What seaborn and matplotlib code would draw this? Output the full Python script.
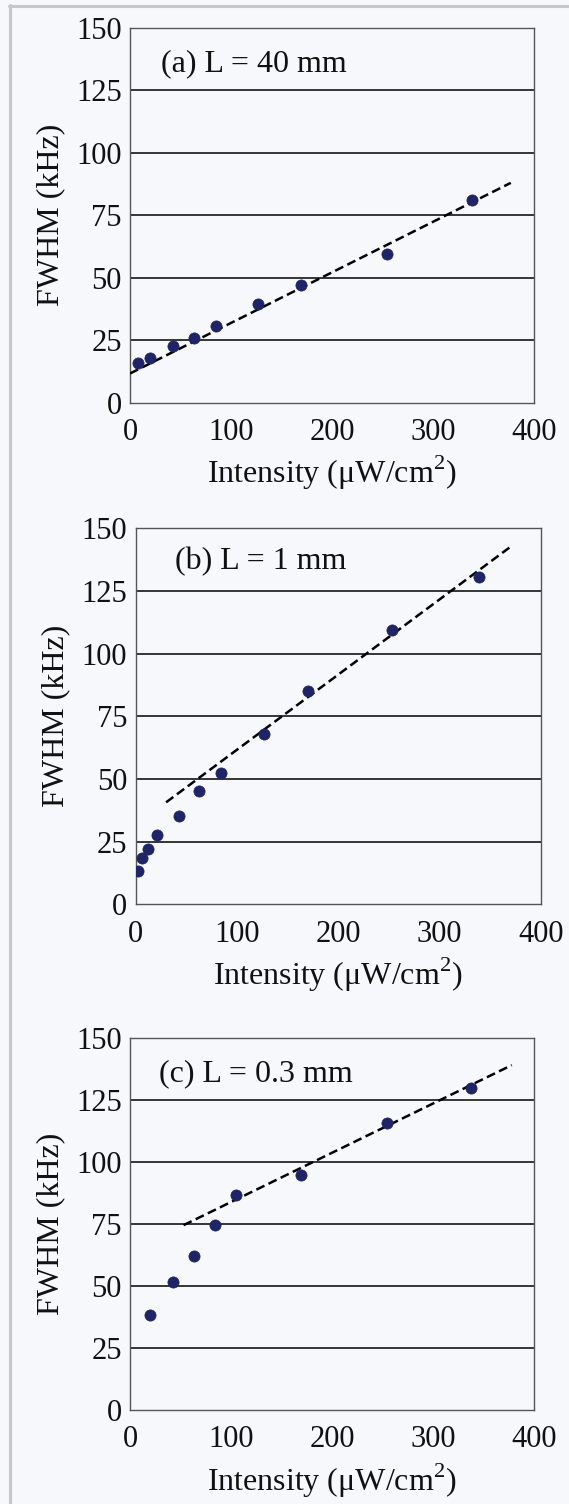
"""
FWHM vs intensity for three cell lengths, stacked vertically.
"""
import matplotlib
matplotlib.use("Agg")
import matplotlib.pyplot as plt
import matplotlib.lines as mlines
import seaborn as sns
import pandas as pd

# -----------------------------
# DATA
# -----------------------------
panel_labels = ["(a) L = 40 mm", "(b) L = 1 mm", "(c) L = 0.3 mm"]

a_intensity = [8, 20, 43, 63, 85, 127, 169, 254, 339]
a_fwhm = [16, 18, 22.6, 26, 30.6, 39.3, 47, 59.3, 81.2]
a_fit_x = [0, 377]
a_fit_y = [11.7, 87.9]

b_intensity = [2, 6, 12, 21, 43, 63, 84, 127, 170, 253, 339]
b_fwhm = [13.3, 18.6, 21.9, 27.7, 35.2, 45.2, 52.3, 68, 85.1, 109.5, 130.5]
b_fit_x = [30, 369]
b_fit_y = [40.7, 142.3]

c_intensity = [20, 43, 63, 84, 105, 169, 254, 338]
c_fwhm = [38.5, 51.8, 62, 74.8, 86.8, 94.8, 116, 129.8]
c_fit_x = [53, 378]
c_fit_y = [74.6, 139.2]

x_ticks = [0, 100, 200, 300, 400]
y_ticks = [0, 25, 50, 75, 100, 125, 150]

# axes rectangles in figure fractions (left, bottom, width, height)
axes_rects = [
    [0.2285, 0.7322, 0.710, 0.2495],
    [0.2385, 0.3987, 0.7118, 0.2500],
    [0.2285, 0.0625, 0.710, 0.2471],
]
label_pos = [(0.077, 0.904), (0.098, 0.911), (0.071, 0.906)]

BG = "#f6f8fb"
DOT = "#1e2466"
INK = "#111111"


def draw_panel(ax, xs, ys, fx, fy, label, lpos):
    pts = pd.DataFrame({"I": xs, "F": ys})
    fit = pd.DataFrame({"I": fx, "F": fy})

    ax.set_facecolor(BG)
    # horizontal grid lines
    for yt in y_ticks[1:-1]:
        ax.axhline(yt, color="#262626", lw=1.3, zorder=1)

    sns.lineplot(data=fit, x="I", y="F", ax=ax, color="black",
                 lw=1.8, zorder=3)
    ax.lines[-1].set_linestyle((0, (3.6, 1.8)))
    sns.scatterplot(data=pts, x="I", y="F", ax=ax, color=DOT, s=65,
                    edgecolor=DOT, linewidth=0.5, zorder=4)

    ax.set_xlim(0, 400)
    ax.set_ylim(0, 150)
    ax.set_xticks(x_ticks)
    ax.set_yticks(y_ticks)
    ax.tick_params(axis="x", direction="in", length=4, width=0.8,
                   pad=11, labelsize=22, colors=INK)
    ax.tick_params(axis="y", direction="out", length=4, width=0.8,
                   pad=2, labelsize=22, colors=INK)
    for sp in ax.spines.values():
        sp.set_color("#555555")
        sp.set_linewidth(1.0)
        sp.set_visible(True)

    ax.set_xlabel("Intensity (\u03bcW/cm$^2$)", fontsize=23, labelpad=5,
                  color=INK)
    ax.set_ylabel("FWHM (kHz)", fontsize=23, labelpad=8, color=INK)
    ax.text(lpos[0], lpos[1], label, transform=ax.transAxes,
            fontsize=23, va="center", ha="left", color=INK)


def main():
    sns.set_theme(style="white")
    plt.rcParams["font.family"] = ["Liberation Serif", "DejaVu Serif"]
    plt.rcParams["mathtext.fontset"] = "custom"
    plt.rcParams["mathtext.rm"] = "Liberation Serif"

    fig = plt.figure(figsize=(5.69, 15.04), dpi=100)
    fig.patch.set_facecolor(BG)

    # light gray frame along the top and left edges
    fig.add_artist(mlines.Line2D([9 / 569, 1], [1 - 6 / 1504, 1 - 6 / 1504],
                                 color="#c5c7c9", lw=2.2,
                                 transform=fig.transFigure))
    fig.add_artist(mlines.Line2D([10 / 569, 10 / 569], [0, 1 - 5 / 1504],
                                 color="#c5c7c9", lw=2.2,
                                 transform=fig.transFigure))

    data = [
        (a_intensity, a_fwhm, a_fit_x, a_fit_y),
        (b_intensity, b_fwhm, b_fit_x, b_fit_y),
        (c_intensity, c_fwhm, c_fit_x, c_fit_y),
    ]
    for rect, (xs, ys, fx, fy), label, lpos in zip(axes_rects, data,
                                                   panel_labels, label_pos):
        ax = fig.add_axes(rect)
        draw_panel(ax, xs, ys, fx, fy, label, lpos)

    fig.savefig("out.png", dpi=100, facecolor=fig.get_facecolor())


if __name__ == "__main__":
    main()
